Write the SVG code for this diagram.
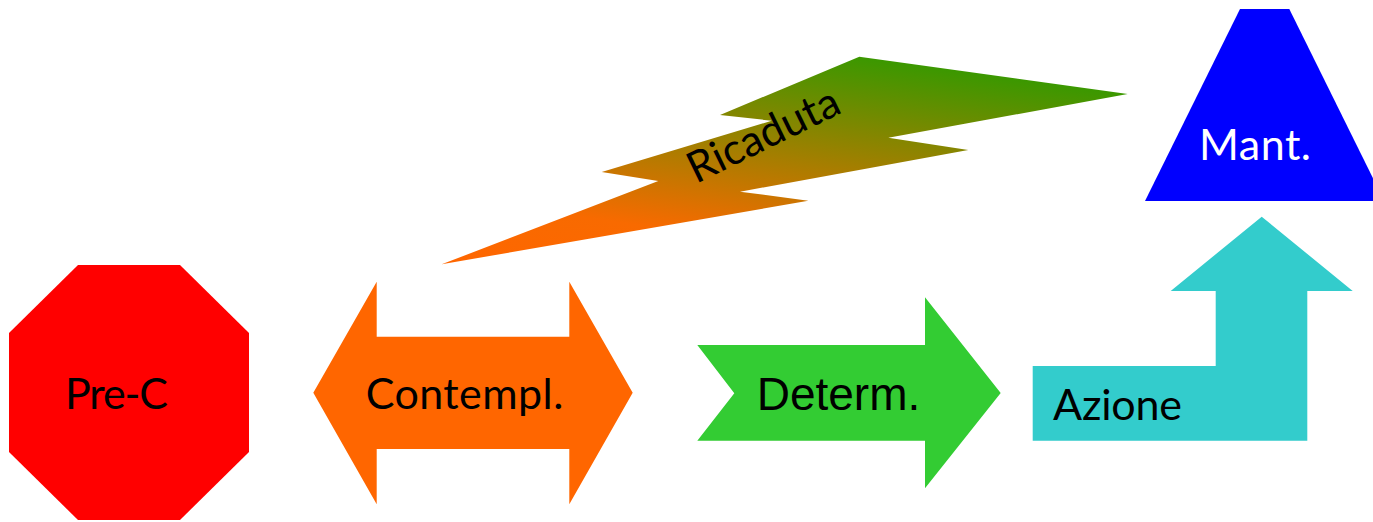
<svg xmlns="http://www.w3.org/2000/svg" width="1373" height="522" viewBox="0 0 1373 522">
  <defs>
    <linearGradient id="bolt" gradientUnits="userSpaceOnUse" x1="441.7" y1="264.3" x2="478.8" y2="1.9">
      <stop offset="0" stop-color="#FF6600"/>
      <stop offset="0.25" stop-color="#F86A00"/>
      <stop offset="1" stop-color="#3A9800"/>
    </linearGradient>
    <style>
      .lbl { font-family: "Lato", "Open Sans", "Noto Sans", sans-serif; font-size: 43px; fill: #000000; }
      .arial { font-family: "Liberation Sans", Arial, sans-serif; font-size: 46px; fill: #000000; }
    </style>
  </defs>
  <rect width="1373" height="522" fill="#FFFFFF"/>

  <g id="ricaduta">
    <polygon points="441.7,264.3 808.3,200.7 740,191.7 968.3,150 888.3,137.7 1127.7,94 859.3,56.7 720,115 771.7,120.7 601.7,172 658.3,181" fill="url(#bolt)"/>
    <text class="lbl" x="696" y="184" textLength="164" transform="rotate(-26 696 184)">Ricaduta</text>
  </g>

  <g id="pre-c">
    <polygon points="78,265 180,265 249,333 249,452 180,520 78,520 9,452 9,333" fill="#FF0000"/>
    <text class="lbl" x="65" y="409.3" textLength="103">Pre-C</text>
  </g>

  <g id="contempl">
    <polygon points="313.3,392.7 376.7,281.7 376.7,336.7 569.3,336.7 569.3,281.7 632.7,392.7 569.3,504.3 569.3,449 376.7,449 376.7,504.3" fill="#FF6600"/>
    <text class="lbl" x="365.7" y="409.3" textLength="197.6">Contempl.</text>
  </g>

  <g id="determ">
    <polygon points="697.3,345 925,345 925,297.3 1000.7,393 925,488.3 925,440.7 697.3,440.7 734.3,393.3" fill="#33CC33"/>
    <text class="arial" x="756.7" y="410">Determ.</text>
  </g>

  <g id="azione">
    <polygon points="1032.7,366 1215.7,366 1215.7,291 1170.7,291 1261.7,216.7 1352.7,291 1307.3,291 1307.3,440.7 1032.7,440.7" fill="#33CCCC"/>
    <text class="lbl" x="1053" y="420" textLength="129">Azione</text>
  </g>

  <g id="mant">
    <polygon points="1240,9 1289.3,9 1384.3,201 1145,201" fill="#0000FF"/>
    <text class="lbl" x="1199" y="160" textLength="112" style="fill:#FFFFFF">Mant.</text>
  </g>

  <g id="connectors"/>
</svg>
